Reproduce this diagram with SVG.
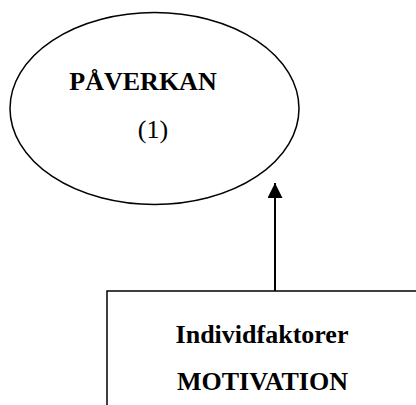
<svg xmlns="http://www.w3.org/2000/svg" width="416" height="405" viewBox="0 0 416 405">
  <style>
    .shape { fill: #ffffff; stroke: #000000; stroke-width: 1.5; }
    .label { font-family: "Liberation Serif", "Times New Roman", serif; font-size: 26px; fill: #000000; text-anchor: middle; }
    .bold { font-weight: bold; }
    .link { stroke: #000000; stroke-width: 2; fill: none; }
  </style>
  <defs>
    <marker id="arrowhead" markerUnits="userSpaceOnUse" markerWidth="16" markerHeight="15" refX="15" refY="7.5" orient="auto">
      <path d="M0,0 L15,7.5 L0,15 Z" fill="#000000"/>
    </marker>
  </defs>
  <rect width="416" height="405" fill="#ffffff"/>

  <g id="paverkan">
    <ellipse class="shape" cx="154.5" cy="108.5" rx="144.5" ry="96"/>
    <text class="label bold" x="143" y="90">PÅVERKAN</text>
    <text class="label" x="153" y="138">(1)</text>
  </g>

  <g id="individfaktorer">
    <rect class="shape" x="107" y="291" width="320" height="130"/>
    <text class="label bold" x="262" y="343">Individfaktorer</text>
    <text class="label bold" x="262.5" y="390">MOTIVATION</text>
  </g>

  <g id="connectors">
    <line class="link" x1="275" y1="291" x2="275" y2="183" marker-end="url(#arrowhead)"/>
  </g>
</svg>
